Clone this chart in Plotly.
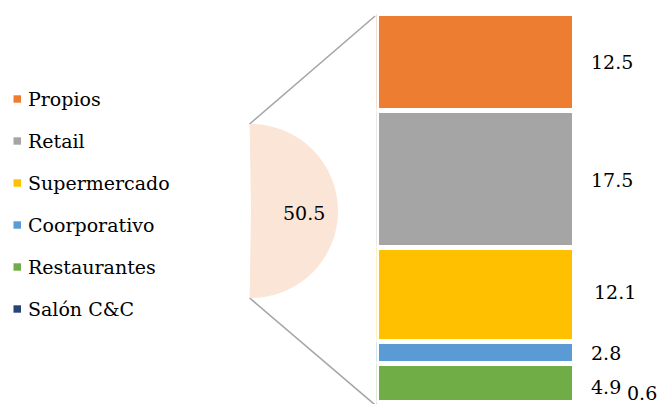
import math
import plotly.graph_objects as go

# ---- data ----
categories = ["Propios", "Retail", "Supermercado", "Coorporativo", "Restaurantes", "Salón C&C"]
values = [12.5, 17.5, 12.1, 2.8, 4.9, 0.6]
colors = ["#ED7D31", "#A5A5A5", "#FFC000", "#5B9BD5", "#70AD47", "#264478"]
pie_labels = ["Otros", "Resto"]
pie_values = [50.5, 49.5]
pie_colors = ["#FBE5D6", "rgba(0,0,0,0)"]

W, H = 660, 404
FONT = "DejaVu Serif"
FS = 19

# ---- layout geometry (pixels) ----
scale = 7.81          # px per unit on the bar axis
y_zero_px = 13.65     # pixel position of value 0 (top of bar)
gap = 4.7             # white separator width
bar_x0, bar_x1 = 376.6, 574.4
cx, cy, r = 251, 211, 87

def ypx(v):
    return y_zero_px + v * scale

def px2paper_x(x):
    return x / W

def px2paper_y(y):
    return 1 - y / H

fig = go.Figure()

for cat, val, col in zip(categories, values, colors):
    fig.add_trace(go.Bar(
        x=["Otros"], y=[val], name=cat,
        marker=dict(color=col, line=dict(color="white", width=gap)),
        showlegend=False, hoverinfo="name+y",
    ))

# pie (only the "other" slice visible)
share = pie_values[0] / sum(pie_values)
rotation = 90 - share * 360 / 2
fig.add_trace(go.Pie(
    labels=pie_labels, values=pie_values, sort=False, direction="clockwise",
    rotation=rotation,
    marker=dict(colors=pie_colors, line=dict(width=0)),
    textinfo="none",
    domain=dict(x=[px2paper_x(cx - r), px2paper_x(cx + r)],
                y=[px2paper_y(cy + r), px2paper_y(cy - r)]),
    showlegend=False, hoverinfo="label+value",
))

shapes = []
annotations = []

# label of the pie slice
annotations.append(dict(
    text=f"{pie_values[0]}", xref="paper", yref="paper",
    x=px2paper_x(cx + 0.61 * r), y=px2paper_y(cy + 2),
    xanchor="center", yanchor="middle", showarrow=False,
    font=dict(family=FONT, size=FS, color="black")))

# connector lines from slice edges to bar ends
a_start = math.radians(rotation)
a_end = math.radians(rotation + share * 360)
p_top = (cx + r * math.sin(a_start), cy - r * math.cos(a_start))
p_bot = (cx + r * math.sin(a_end), cy - r * math.cos(a_end))
total = sum(values)
bar_top = ypx(0) + gap / 2
bar_bot = ypx(total) - gap / 2
for (px, py), by in [(p_top, bar_top), (p_bot, bar_bot)]:
    shapes.append(dict(type="line", xref="paper", yref="paper",
                       x0=px2paper_x(px), y0=px2paper_y(py),
                       x1=px2paper_x(bar_x0 - 1.5), y1=px2paper_y(by),
                       line=dict(color="#A5A5A5", width=1.6), layer="below"))

# data labels right of the bar
cum = 0
label_shift = {2: (3, -3), 4: (0, 4), 5: (36, -12)}
for i, val in enumerate(values):
    mid = cum + val / 2
    cum += val
    dx, dy = label_shift.get(i, (0, 0))
    annotations.append(dict(
        text=f"{val}", xref="paper", yref="paper",
        x=px2paper_x(589 + dx), y=px2paper_y(ypx(mid) + dy),
        xanchor="left", yanchor="middle", showarrow=False,
        font=dict(family=FONT, size=FS, color="black")))

# custom legend
leg_y0, leg_dy = 99, 42
for i, (cat, col) in enumerate(zip(categories, colors)):
    yc = leg_y0 + i * leg_dy
    shapes.append(dict(type="rect", xref="paper", yref="paper",
                       x0=px2paper_x(13.5), x1=px2paper_x(21),
                       y0=px2paper_y(yc - 3.7), y1=px2paper_y(yc + 3.7),
                       fillcolor=col, line=dict(width=0)))
    annotations.append(dict(
        text=cat, xref="paper", yref="paper",
        x=px2paper_x(26), y=px2paper_y(yc),
        xanchor="left", yanchor="middle", showarrow=False,
        font=dict(family=FONT, size=FS, color="black")))

fig.update_layout(
    width=W, height=H, margin=dict(l=0, r=0, t=0, b=0),
    paper_bgcolor="white", plot_bgcolor="white",
    font=dict(family=FONT),
    barmode="stack", bargap=0,
    xaxis=dict(domain=[px2paper_x(bar_x0), px2paper_x(bar_x1)], visible=False,
               fixedrange=True),
    yaxis=dict(range=[(H - y_zero_px) / scale, -y_zero_px / scale], visible=False,
               fixedrange=True),
    shapes=shapes, annotations=annotations, showlegend=False,
)

fig.write_html("out.html")
